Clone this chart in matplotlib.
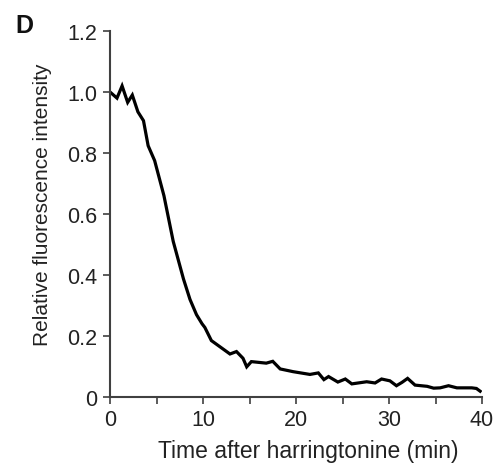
import matplotlib
matplotlib.use("Agg")
import matplotlib.pyplot as plt
from matplotlib.ticker import FixedLocator, FixedFormatter

plt.rcParams['font.family'] = ['Liberation Sans', 'DejaVu Sans']

time_min = [0.0, 0.75, 1.3, 1.9, 2.4, 3.0, 3.6, 4.1, 4.8, 5.8, 6.8, 7.9, 8.6, 9.3, 9.9,
            10.2, 10.9, 12.9, 13.6, 14.3, 14.7, 15.2, 16.8, 17.5, 18.3, 19.7, 21.5,
            22.4, 23.0, 23.5, 24.5, 25.3, 26.0, 27.6, 28.5, 29.2, 30.1, 30.8, 31.4,
            32.0, 32.8, 34.1, 34.8, 35.5, 36.4, 37.3, 38.9, 39.4, 39.8]
intensity = [1.0, 0.98, 1.02, 0.966, 0.99, 0.935, 0.906, 0.824, 0.775, 0.66, 0.51, 0.387,
             0.32, 0.27, 0.24, 0.228, 0.185, 0.141, 0.149, 0.127, 0.099, 0.116, 0.111,
             0.117, 0.092, 0.083, 0.074, 0.079, 0.057, 0.067, 0.049, 0.059, 0.043, 0.05,
             0.046, 0.059, 0.053, 0.037, 0.048, 0.061, 0.039, 0.035, 0.029, 0.030, 0.037,
             0.030, 0.030, 0.028, 0.019]

x_ticks = [0, 5, 10, 15, 20, 25, 30, 35, 40]
x_labels = ['0', '', '10', '', '20', '', '30', '', '40']
y_ticks = [0, 0.2, 0.4, 0.6, 0.8, 1.0, 1.2]
y_labels = ['0', '0.2', '0.4', '0.6', '0.8', '1.0', '1.2']

fig = plt.figure(figsize=(4.93, 4.64), dpi=100)
ax = fig.add_axes([110/493, 66/464, 372/493, 366/464])
ax.plot(time_min, intensity, color='black', lw=2.3, solid_joinstyle='miter')
ax.set_xlim(0, 40)
ax.set_ylim(0, 1.2)
ax.xaxis.set_major_locator(FixedLocator(x_ticks))
ax.xaxis.set_major_formatter(FixedFormatter(x_labels))
ax.yaxis.set_major_locator(FixedLocator(y_ticks))
ax.yaxis.set_major_formatter(FixedFormatter(y_labels))
for s in ['top', 'right']:
    ax.spines[s].set_visible(False)
for s in ['left', 'bottom']:
    ax.spines[s].set_color('#404040')
    ax.spines[s].set_linewidth(1.5)
ax.tick_params(direction='out', length=5, width=1.2, color='#404040',
               labelsize=15.5, labelcolor='#222222', pad=4)
ax.set_xlabel('Time after harringtonine (min)', fontsize=16.5, color='#222222')
ax.set_ylabel('Relative fluorescence intensity', fontsize=15, color='#222222')
ax.xaxis.set_label_coords(0.532, -0.115)
ax.yaxis.set_label_coords(-0.155, 0.527)
fig.text(15/493, 1 - 33/464, 'D', fontsize=18, fontweight='bold', color='#111111')
fig.savefig('out.png', dpi=100)
